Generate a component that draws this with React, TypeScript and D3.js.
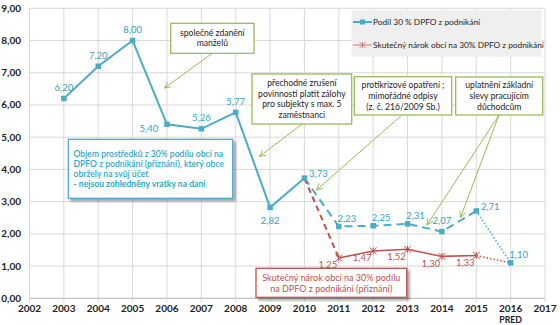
import React from "react";
import * as d3 from "d3";

const years = [2003, 2004, 2005, 2006, 2007, 2008, 2009, 2010, 2011, 2012, 2013, 2014, 2015, 2016];
const blueValues = [6.2, 7.2, 8.0, 5.4, 5.26, 5.77, 2.82, 3.73, 2.23, 2.25, 2.31, 2.07, 2.71, 1.1];
const blueLabelPos = ["top", "top", "top", "left", "top", "top", "bottom", "right", "topright", "topright", "topright", "top", "right", "topright"];
const redYears = [2011, 2012, 2013, 2014, 2015];
const redValues = [1.25, 1.47, 1.52, 1.3, 1.33];
const xTicks = d3.range(2002, 2018);
const xSubLabels: Record<number, string> = { 2016: "PRED" };
const yTicks = d3.range(0, 10);
const legendLabels = ["Podíl 30 % DPFO z podnikání", "Skutečný nárok obcí na 30% DPFO z podnikání"];

const W = 560, H = 325;
const BLUE = "#4bacc6";
const BLUE_TXT = "#31a5c4";
const RED = "#c0504d";
const GREEN = "#9bbb59";
const FONT = "Lato, 'Open Sans', sans-serif";

const fmt = (v: number) => v.toFixed(2).replace(".", ",");

export default function App() {
  const x = d3.scaleLinear().domain([2002, 2017]).range([29.5, 545]);
  const y = d3.scaleLinear().domain([0, 9]).range([298.3, 8.3]);
  const line = d3.line<[number, number]>().x(d => x(d[0])).y(d => y(d[1]));
  const bluePts: [number, number][] = years.map((yr, i) => [yr, blueValues[i]]);
  const redPts: [number, number][] = redYears.map((yr, i) => [yr, redValues[i]]);
  const i2010 = years.indexOf(2010), i2015 = years.indexOf(2015);
  const blueSolid = bluePts.slice(0, i2010 + 1);
  const blueDash = bluePts.slice(i2010, i2015 + 1);
  const blueDot = bluePts.slice(i2015);
  const redDash: [number, number][] = [bluePts[i2010], redPts[0]];
  const redDot: [number, number][] = [redPts[redPts.length - 1], bluePts[bluePts.length - 1]];

  const offs: Record<string, [number, number, string]> = {
    top: [0, -11, "middle"],
    left: [-18, 4, "middle"],
    bottom: [0, 13, "middle"],
    right: [14, -4, "middle"],
    topright: [8, -8, "middle"],
  };

  const star = (cx: number, cy: number, key: string, r = 3.5, sw = 1) => (
    <g key={key} stroke={RED} strokeWidth={sw}>
      <line x1={cx - r} y1={cy - r} x2={cx + r} y2={cy + r} />
      <line x1={cx - r} y1={cy + r} x2={cx + r} y2={cy - r} />
      <line x1={cx} y1={cy - r} x2={cx} y2={cy + r} />
    </g>
  );

  const arrow = (x1: number, y1: number, x2: number, y2: number, key: string) => {
    const a = Math.atan2(y2 - y1, x2 - x1);
    const L = 7, s = 0.45;
    return (
      <g key={key} stroke={GREEN} strokeWidth={1} fill="none">
        <line x1={x1} y1={y1} x2={x2} y2={y2} />
        <polyline
          points={`${x2 - L * Math.cos(a - s)},${y2 - L * Math.sin(a - s)} ${x2},${y2} ${x2 - L * Math.cos(a + s)},${y2 - L * Math.sin(a + s)}`}
        />
      </g>
    );
  };

  const box = (x0: number, y0: number, w: number, h: number, lines: string[], key: string, lh = 10.7) => (
    <g key={key}>
      <rect x={x0} y={y0} width={w} height={h} fill="#fff" stroke={GREEN} strokeWidth={1.3} />
      {lines.map((t, i) => (
        <text key={i} x={x0 + w / 2} y={y0 + h / 2 + (i - (lines.length - 1) / 2) * lh + 3.1} textAnchor="middle" fontSize={8.6} fill="#222">
          {t}
        </text>
      ))}
    </g>
  );

  return (
    <svg width={W} height={H} style={{ position: "absolute", left: 0, top: 0, fontFamily: FONT }}>
      <defs>
        <filter id="sh" x="-10%" y="-10%" width="130%" height="140%">
          <feDropShadow dx="2.5" dy="2.5" stdDeviation="1" floodColor="#000" floodOpacity="0.35" />
        </filter>
      </defs>
      <rect width={W} height={H} fill="#fff" />
      {/* grid */}
      {yTicks.map(t => (
        <line key={"gy" + t} x1={x(2002)} x2={x(2017)} y1={y(t)} y2={y(t)} stroke="#d9d9d9" strokeWidth={1} />
      ))}
      {xTicks.map(t => (
        <line key={"gx" + t} x1={x(t)} x2={x(t)} y1={y(9)} y2={y(0) + 4} stroke="#d9d9d9" strokeWidth={1} />
      ))}
      <line x1={x(2002)} x2={x(2017)} y1={y(0)} y2={y(0)} stroke="#bfbfbf" strokeWidth={1} />
      {/* y labels */}
      {yTicks.map(t => (
        <text key={"yl" + t} x={21} y={y(t) + 3.5} textAnchor="end" fontSize={10} fontWeight="bold" fill="#222">
          {fmt(t)}
        </text>
      ))}
      {xTicks.map(t => (
        <text key={"xl" + t} x={x(t)} y={312.3} textAnchor="middle" fontSize={10} fontWeight="bold" fill="#222">
          {t}
        </text>
      ))}
      {xTicks.filter(t => xSubLabels[t]).map(t => (
        <text key={"xs" + t} x={x(t)} y={323} textAnchor="middle" fontSize={8.8} fontWeight="bold" fill="#222">
          {xSubLabels[t]}
        </text>
      ))}

      {/* legend */}
      <rect x={351.7} y={10} width={190} height={46.7} fill="#efefef" />
      <line x1={353} x2={372} y1={22} y2={22} stroke={BLUE} strokeWidth={2} />
      <rect x={360} y={19.5} width={5} height={5} fill={BLUE} />
      <text x={373} y={25} fontSize={8.3} fill="#222">{legendLabels[0]}</text>
      <line x1={353} x2={372} y1={45} y2={45} stroke="#d98a88" strokeWidth={1.2} />
      <g opacity={0.6}>{star(362.5, 45, "lgs", 3)}</g>
      <text x={373} y={48} fontSize={8.3} fill="#222">{legendLabels[1]}</text>

      {/* series */}
      <path d={line(blueSolid) || ""} fill="none" stroke={BLUE} strokeWidth={2} />
      <path d={line(blueDash) || ""} fill="none" stroke={BLUE} strokeWidth={2} strokeDasharray="8,5" />
      <path d={line(blueDot) || ""} fill="none" stroke={BLUE} strokeWidth={1.5} strokeDasharray="1.5,2" />
      <path d={line(redDash) || ""} fill="none" stroke={RED} strokeWidth={2} strokeDasharray="6,4" />
      <path d={line(redPts) || ""} fill="none" stroke={RED} strokeWidth={1.6} />
      <path d={line(redDot) || ""} fill="none" stroke={RED} strokeWidth={1.5} strokeDasharray="1.5,2" />
      {bluePts.map((p, i) => (
        <rect key={"bm" + i} x={x(p[0]) - 2.75} y={y(p[1]) - 2.75} width={5.5} height={5.5} fill={BLUE} />
      ))}
      {redPts.map((p, i) => star(x(p[0]), y(p[1]), "rm" + i))}
      {bluePts.map((p, i) => {
        const o = offs[blueLabelPos[i]];
        return (
          <text key={"bl" + i} x={x(p[0]) + o[0]} y={y(p[1]) + o[1] + 3.3} textAnchor={o[2] as any} fontSize={9.5} fill={BLUE_TXT}>
            {fmt(p[1])}
          </text>
        );
      })}
      {redPts.map((p, i) => (
        <text key={"rl" + i} x={x(p[0]) - 11} y={y(p[1]) + 7 + 3.3} textAnchor="middle" fontSize={9.5} fill={RED}>
          {fmt(p[1])}
        </text>
      ))}

      {/* annotations */}
      {arrow(212, 53.5, 164.5, 88, "a1")}
      {arrow(302, 124, 259.5, 156.5, "a2")}
      {arrow(402, 115, 316.5, 190, "a3")}
      {arrow(499, 115, 427, 225, "a4")}
      {arrow(499, 115, 460.5, 217.5, "a5")}
      {box(170.7, 23.3, 83.3, 30, ["společné zdanění", "manželů"], "b1", 10)}
      {box(252, 74, 99.7, 50, ["přechodné zrušení", "povinnosti platit zálohy", "pro subjekty s max. 5", "zaměstnanci"], "b2")}
      {box(354.3, 76.7, 97.4, 38.3, ["protikrizové opatření ;", "mimořádné odpisy", "(z. č. 216/2009 Sb.)"], "b3")}
      {box(455.7, 77, 87, 38, ["uplatnění základní", "slevy pracujícím", "důchodcům"], "b4")}

      <g filter="url(#sh)">
        <rect x={68.3} y={139.3} width={164.4} height={59} fill="#fff" stroke={BLUE} strokeWidth={1.3} />
      </g>
      {["Objem prostředků z 30% podílu obcí na", "DPFO z podnikání (přiznání), který obce", "obržely na svůj účet", "- nejsou zohledněny vratky na dani"].map((t, i) => (
        <text key={"bt" + i} x={73.5} y={156.5 + i * 10.3} fontSize={8.6} fill={BLUE_TXT} fontWeight={i === 3 ? 700 : 600}>
          {t}
        </text>
      ))}

      <g filter="url(#sh)">
        <rect x={256} y={268.3} width={150.7} height={29} fill="#fff" stroke={RED} strokeWidth={1.3} />
      </g>
      {["Skutečný nárok obcí na 30% podílu", "na DPFO z podnikání (přiznání)"].map((t, i) => (
        <text key={"rt" + i} x={331.3} y={281 + i * 10.7} textAnchor="middle" fontSize={9} fill={RED}>
          {t}
        </text>
      ))}
    </svg>
  );
}
